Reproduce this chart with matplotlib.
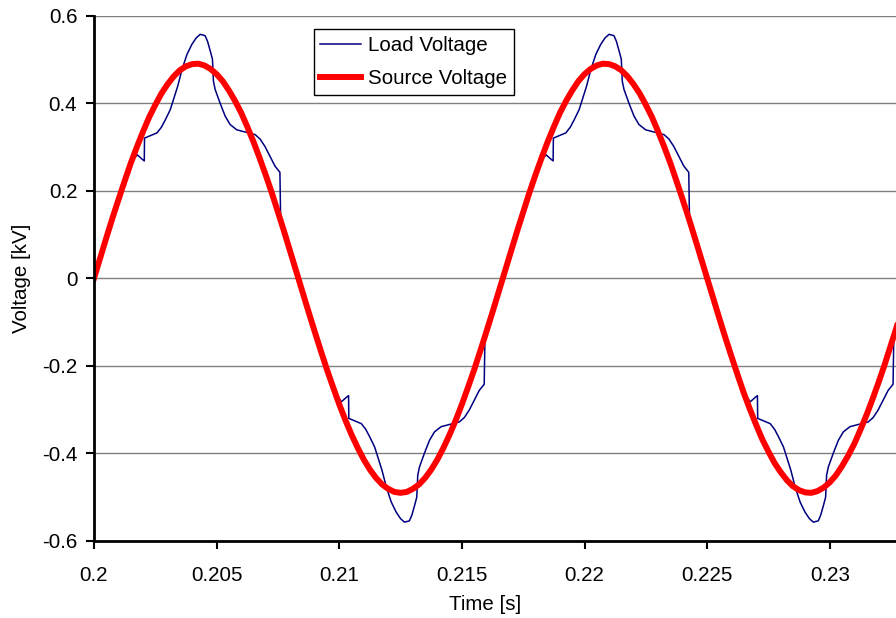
import numpy as np
import matplotlib
matplotlib.use("Agg")
import matplotlib.pyplot as plt

plt.rcParams['font.family'] = ['Liberation Sans', 'DejaVu Sans']
plt.rcParams['axes.unicode_minus'] = False

# source voltage, sampled every 0.25 ms from 0.2 s
source_t = 0.2 + 0.00025 * np.arange(135)
source_v = [0.000, 0.046, 0.092, 0.137, 0.180, 0.222, 0.263, 0.300, 0.335, 0.368,
            0.396, 0.422, 0.443, 0.461, 0.475, 0.484, 0.489, 0.490, 0.486, 0.478,
            0.466, 0.450, 0.429, 0.405, 0.378, 0.346, 0.312, 0.275, 0.236, 0.195,
            0.151, 0.107, 0.061, 0.015, -0.031, -0.077, -0.122, -0.166, -0.209, -0.249,
            -0.288, -0.324, -0.357, -0.387, -0.414, -0.437, -0.456, -0.471, -0.481, -0.488,
            -0.490, -0.488, -0.481, -0.471, -0.456, -0.437, -0.414, -0.387, -0.357, -0.324,
            -0.288, -0.249, -0.209, -0.166, -0.122, -0.077, -0.031, 0.015, 0.061, 0.107,
            0.151, 0.195, 0.236, 0.275, 0.312, 0.346, 0.378, 0.405, 0.429, 0.450,
            0.466, 0.478, 0.486, 0.490, 0.489, 0.484, 0.475, 0.461, 0.443, 0.422,
            0.396, 0.368, 0.335, 0.300, 0.263, 0.222, 0.180, 0.137, 0.092, 0.046,
            0.000, -0.046, -0.092, -0.137, -0.180, -0.222, -0.263, -0.300, -0.335, -0.368,
            -0.396, -0.422, -0.443, -0.461, -0.475, -0.484, -0.489, -0.490, -0.486, -0.478,
            -0.466, -0.450, -0.429, -0.405, -0.378, -0.346, -0.312, -0.275, -0.236, -0.195,
            -0.151, -0.107, -0.061, -0.015, 0.031]

# load voltage
load_t = [0.20000, 0.20050, 0.20100, 0.20150, 0.20176, 0.20196, 0.20205, 0.20206,
          0.20223, 0.20257, 0.20275, 0.20291, 0.20311, 0.20341, 0.20359, 0.20379,
          0.20399, 0.20417, 0.20433, 0.20453, 0.20463, 0.20476, 0.20483, 0.20487,
          0.20494, 0.20514, 0.20535, 0.20555, 0.20582, 0.20623, 0.20657, 0.20677,
          0.20697, 0.20718, 0.20738, 0.20758, 0.20761, 0.20800,
          0.20833, 0.20883, 0.20933, 0.20983, 0.21009, 0.21029, 0.21038, 0.21039,
          0.21056, 0.21090, 0.21108, 0.21124, 0.21144, 0.21174, 0.21192, 0.21212,
          0.21232, 0.21250, 0.21266, 0.21286, 0.21296, 0.21309, 0.21316, 0.21320,
          0.21327, 0.21347, 0.21368, 0.21388, 0.21415, 0.21456, 0.21490, 0.21510,
          0.21530, 0.21551, 0.21571, 0.21591, 0.21594, 0.21633,
          0.21667, 0.21717, 0.21767, 0.21817, 0.21843, 0.21863, 0.21872, 0.21873,
          0.21890, 0.21924, 0.21942, 0.21958, 0.21978, 0.22008, 0.22026, 0.22046,
          0.22066, 0.22084, 0.22100, 0.22120, 0.22130, 0.22143, 0.22150, 0.22154,
          0.22161, 0.22181, 0.22202, 0.22222, 0.22249, 0.22290, 0.22324, 0.22344,
          0.22364, 0.22385, 0.22405, 0.22425, 0.22428, 0.22467,
          0.22500, 0.22550, 0.22600, 0.22650, 0.22676, 0.22696, 0.22705, 0.22706,
          0.22723, 0.22757, 0.22775, 0.22791, 0.22811, 0.22841, 0.22859, 0.22879,
          0.22899, 0.22917, 0.22933, 0.22953, 0.22963, 0.22976, 0.22983, 0.22987,
          0.22994, 0.23014, 0.23035, 0.23055, 0.23082, 0.23123, 0.23157, 0.23177,
          0.23197, 0.23218, 0.23238, 0.23258, 0.23261, 0.23300]
load_v = [0.000, 0.092, 0.180, 0.263, 0.282, 0.272, 0.268, 0.320,
          0.324, 0.332, 0.345, 0.362, 0.385, 0.438, 0.477, 0.511,
          0.534, 0.549, 0.557, 0.554, 0.541, 0.515, 0.500, 0.450,
          0.431, 0.400, 0.370, 0.351, 0.339, 0.333, 0.328, 0.318,
          0.301, 0.278, 0.256, 0.242, 0.134, 0.061,
          0.000, -0.092, -0.180, -0.263, -0.282, -0.272, -0.268, -0.320,
          -0.324, -0.332, -0.345, -0.362, -0.385, -0.438, -0.477, -0.511,
          -0.534, -0.549, -0.557, -0.554, -0.541, -0.515, -0.500, -0.450,
          -0.431, -0.400, -0.370, -0.351, -0.339, -0.333, -0.328, -0.318,
          -0.301, -0.278, -0.256, -0.242, -0.134, -0.061,
          0.000, 0.092, 0.180, 0.263, 0.282, 0.272, 0.268, 0.320,
          0.324, 0.332, 0.345, 0.362, 0.385, 0.438, 0.477, 0.511,
          0.534, 0.549, 0.557, 0.554, 0.541, 0.515, 0.500, 0.450,
          0.431, 0.400, 0.370, 0.351, 0.339, 0.333, 0.328, 0.318,
          0.301, 0.278, 0.256, 0.242, 0.134, 0.061,
          0.000, -0.092, -0.180, -0.263, -0.282, -0.272, -0.268, -0.320,
          -0.324, -0.332, -0.345, -0.362, -0.385, -0.438, -0.477, -0.511,
          -0.534, -0.549, -0.557, -0.554, -0.541, -0.515, -0.500, -0.450,
          -0.431, -0.400, -0.370, -0.351, -0.339, -0.333, -0.328, -0.318,
          -0.301, -0.278, -0.256, -0.242, -0.134, -0.061]

x_ticks = [0.2, 0.205, 0.21, 0.215, 0.22, 0.225, 0.23]
x_labels = ['0.2', '0.205', '0.21', '0.215', '0.22', '0.225', '0.23']
y_ticks = [-0.6, -0.4, -0.2, 0, 0.2, 0.4, 0.6]
y_labels = ['-0.6', '-0.4', '-0.2', '0', '0.2', '0.4', '0.6']

fs = 14.8

fig = plt.figure(figsize=(8.96, 6.18), dpi=100)
ax = fig.add_axes([94 / 896, 77 / 618, 1 - 94 / 896, (541 - 15.5) / 618])

ax.plot(load_t, load_v, color='#000080', linewidth=1.1, label='Load Voltage')
ax.plot(source_t, source_v, color='#ff0000', linewidth=4.3, label='Source Voltage')

ax.set_xlim(0.2, 0.2327)
ax.set_ylim(-0.6, 0.6)
ax.set_xticks(x_ticks)
ax.set_xticklabels(x_labels)
ax.set_yticks(y_ticks)
ax.set_yticklabels(y_labels)

ax.grid(axis='y', color='#808080', linewidth=1.0)
ax.set_axisbelow(True)
for side in ['top', 'right']:
    ax.spines[side].set_visible(False)
for side in ['left', 'bottom']:
    ax.spines[side].set_linewidth(2.0)
    ax.spines[side].set_color('black')

ax.tick_params(axis='both', direction='out', length=6, width=1.5, labelsize=fs)
ax.tick_params(axis='x', pad=12)
ax.tick_params(axis='y', pad=6)

ax.set_xlabel('Time [s]', fontsize=fs)
ax.set_ylabel('Voltage [kV]', fontsize=fs)
ax.xaxis.set_label_coords((485 - 94) / (896 - 94), -0.102)
ax.yaxis.set_label_coords(-0.078, 0.5)

leg = ax.legend(loc='upper left', bbox_to_anchor=(0.274, 0.974), borderaxespad=0,
                fancybox=False, framealpha=1, edgecolor='black', fontsize=fs,
                handlelength=2.0, handletextpad=0.34, borderpad=0.32, labelspacing=0.7)
leg.get_frame().set_linewidth(1.0)

fig.savefig('out.png', dpi=100)
